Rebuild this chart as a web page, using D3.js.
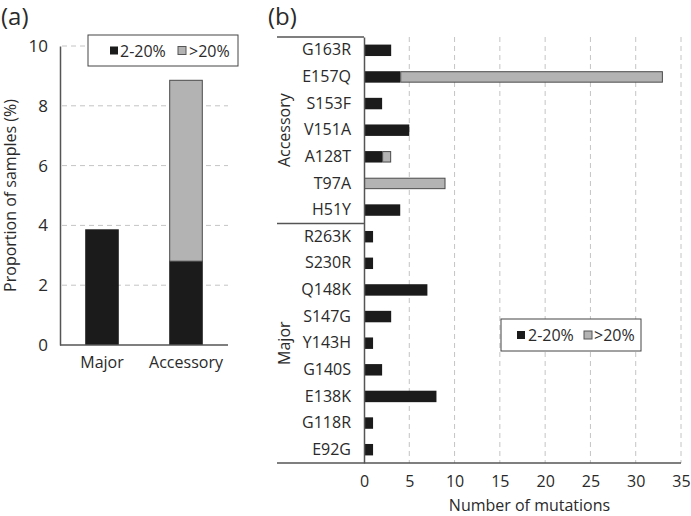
<!DOCTYPE html>
<html><head><meta charset="utf-8">
<script src="https://cdn.jsdelivr.net/npm/d3@7"></script>
<style>
body{margin:0;background:#fff;}
text{font-family:"Open Sans",sans-serif;fill:#2a2a2a;}
</style></head>
<body><svg id="c" width="691" height="516"></svg>
<script>
// Panel (a) data
const aCategories = ["Major", "Accessory"];
const aLow = [3.87, 2.82];     // 2-20%
const aHigh = [0, 6.05];       // >20%
const aTicks = [0, 2, 4, 6, 8, 10];

// Panel (b) data
const bMutations = ["G163R","E157Q","S153F","V151A","A128T","T97A","H51Y",
                    "R263K","S230R","Q148K","S147G","Y143H","G140S","E138K","G118R","E92G"];
const bGroups = ["Accessory","Accessory","Accessory","Accessory","Accessory","Accessory","Accessory",
                 "Major","Major","Major","Major","Major","Major","Major","Major","Major"];
const bLow = [3, 4, 2, 5, 2, 0, 4, 1, 1, 7, 3, 1, 2, 8, 1, 1];
const bHigh = [0, 29, 0, 0, 1, 9, 0, 0, 0, 0, 0, 0, 0, 0, 0, 0];
const bTicks = [0, 5, 10, 15, 20, 25, 30, 35];

const legendLabels = ["2-20%", ">20%"];
const colLow = "#1b1b1b", colHigh = "#b3b3b3";

const svg = d3.select("#c");

// ---------- Panel (a) ----------
const ax0 = 60, ax1 = 228, ay0 = 345, ay1 = 46;
const ya = d3.scaleLinear().domain([0, 10]).range([ay0, ay1]);
const xa = d3.scaleBand().domain(aCategories).range([ax0, ax1]).paddingInner(0.6).paddingOuter(0.3);

const ga = svg.append("g");
ga.selectAll("line.grid").data(aTicks.filter(d => d > 0)).join("line")
  .attr("x1", ax0 + 2).attr("x2", ax1).attr("y1", d => ya(d)).attr("y2", d => ya(d))
  .attr("stroke", "#c4c4c4").attr("stroke-dasharray", "5,4");
ga.selectAll("rect.low").data(aCategories).join("rect")
  .attr("x", d => xa(d)).attr("width", xa.bandwidth())
  .attr("y", (d, i) => ya(aLow[i])).attr("height", (d, i) => ya(0) - ya(aLow[i]))
  .attr("fill", colLow);
ga.selectAll("rect.high").data(aCategories.filter((d, i) => aHigh[i] > 0)).join("rect")
  .attr("x", d => xa(d) + 0.5).attr("width", xa.bandwidth() - 1)
  .attr("y", d => { const i = aCategories.indexOf(d); return ya(aLow[i] + aHigh[i]) + 0.5; })
  .attr("height", d => { const i = aCategories.indexOf(d); return ya(aLow[i]) - ya(aLow[i] + aHigh[i]); })
  .attr("fill", colHigh).attr("stroke", "#4a4a4a").attr("stroke-width", 1);
const yAxA = d3.axisLeft(ya).tickValues(aTicks).tickSize(0).tickPadding(12).tickFormat(d3.format("d"));
const gya = ga.append("g").attr("transform", `translate(${ax0},0)`).call(yAxA);
gya.select(".domain").attr("stroke", "#555").attr("stroke-width", 1.5);
gya.selectAll("text").attr("font-size", 17).style("font-family", "Open Sans").attr("fill", "#333");
ga.append("line").attr("x1", ax0).attr("x2", ax1).attr("y1", ay0).attr("y2", ay0).attr("stroke", "#555").attr("stroke-width", 1.5);
const xAxA = d3.axisBottom(xa).tickSize(0).tickPadding(12);
const gxa = ga.append("g").attr("transform", `translate(0,${ay0})`).call(xAxA);
gxa.select(".domain").remove();
gxa.selectAll("text").attr("font-size", 16).style("font-family", "Open Sans").attr("fill", "#333");
ga.append("text").attr("transform", `translate(16,${(ay0 + ay1) / 2}) rotate(-90)`)
  .attr("text-anchor", "middle").attr("font-size", 16).text("Proportion of samples (%)");
svg.append("text").attr("x", 1).attr("y", 25).attr("font-size", 24).text("(a)");

function legend(g, x, y, w, h, sq, tx) {
  g.append("rect").attr("x", x).attr("y", y).attr("width", w).attr("height", h)
    .attr("fill", "#fff").attr("stroke", "#444").attr("stroke-width", 1);
  const cols = [colLow, colHigh];
  legendLabels.forEach((lab, i) => {
    g.append("rect").attr("x", x + sq[i]).attr("y", y + h / 2 - 4).attr("width", 8).attr("height", 8)
      .attr("fill", cols[i]).attr("stroke", i ? "#555" : "none");
    g.append("text").attr("x", x + tx[i]).attr("y", y + h / 2 + 6).attr("font-size", 16).text(lab);
  });
}
legend(ga, 88, 35, 150, 31, [22, 90], [32, 101]);

// ---------- Panel (b) ----------
const bx0 = 364, bx1 = 681, by0 = 37, by1 = 463;
const xb = d3.scaleLinear().domain([0, 35]).range([bx0, bx1]);
const yb = d3.scaleBand().domain(bMutations).range([by0, by1]).paddingInner(0.57).paddingOuter(0.285);
const gb = svg.append("g");
gb.selectAll("line.grid").data(bTicks.filter(d => d > 0)).join("line")
  .attr("x1", d => xb(d)).attr("x2", d => xb(d)).attr("y1", by0).attr("y2", by1)
  .attr("stroke", "#c4c4c4").attr("stroke-dasharray", "5,4");
gb.selectAll("rect.low").data(bMutations.filter((d, i) => bLow[i] > 0)).join("rect")
  .attr("x", xb(0)).attr("y", d => yb(d)).attr("height", yb.bandwidth())
  .attr("width", d => xb(bLow[bMutations.indexOf(d)]) - xb(0)).attr("fill", colLow);
gb.selectAll("rect.high").data(bMutations.filter((d, i) => bHigh[i] > 0)).join("rect")
  .attr("x", d => xb(bLow[bMutations.indexOf(d)]) + 0.5).attr("y", d => yb(d) + 0.5).attr("height", yb.bandwidth() - 1)
  .attr("width", d => { const i = bMutations.indexOf(d); return xb(bLow[i] + bHigh[i]) - xb(bLow[i]) - 1; })
  .attr("fill", colHigh).attr("stroke", "#4a4a4a").attr("stroke-width", 1);
const yAxB = d3.axisLeft(yb).tickSize(0).tickPadding(13);
const gyb = gb.append("g").attr("transform", `translate(${bx0},0)`).call(yAxB);
gyb.select(".domain").attr("stroke", "#555").attr("stroke-width", 1.5);
gyb.selectAll("text").attr("font-size", 16).style("font-family", "Open Sans").attr("fill", "#333");
const xAxB = d3.axisBottom(xb).tickValues(bTicks).tickSize(0).tickPadding(13).tickFormat(d3.format("d"));
const gxb = gb.append("g").attr("transform", `translate(0,${by1})`).call(xAxB);
gxb.select(".domain").remove();
gxb.selectAll("text").attr("font-size", 16).style("font-family", "Open Sans").attr("fill", "#333");
gb.append("line").attr("x1", 277).attr("x2", xb(35)).attr("y1", by1).attr("y2", by1).attr("stroke", "#555").attr("stroke-width", 1.5);
gb.append("line").attr("x1", 277).attr("x2", bx0).attr("y1", by0).attr("y2", by0).attr("stroke", "#555").attr("stroke-width", 1.5);
const sepY = (yb("H51Y") + yb.bandwidth() + yb("R263K")) / 2;
gb.append("line").attr("x1", 277).attr("x2", bx0).attr("y1", sepY).attr("y2", sepY).attr("stroke", "#555").attr("stroke-width", 1.5);
const groupNames = ["Accessory", "Major"];
groupNames.forEach(gname => {
  const members = bMutations.filter((d, i) => bGroups[i] === gname);
  const cy = (yb(members[0]) + yb(members[members.length - 1]) + yb.bandwidth()) / 2;
  gb.append("text").attr("transform", `translate(290,${cy}) rotate(-90)`)
    .attr("text-anchor", "middle").attr("font-size", 16).text(gname);
});
gb.append("text").attr("x", (bx0 + bx1) / 2 + 7).attr("y", 511).attr("text-anchor", "middle")
  .attr("font-size", 16).text("Number of mutations");
svg.append("text").attr("x", 268).attr("y", 25).attr("font-size", 24).text("(b)");
legend(gb, 501, 319, 140, 32, [16, 83], [27, 93]);
</script></body></html>
